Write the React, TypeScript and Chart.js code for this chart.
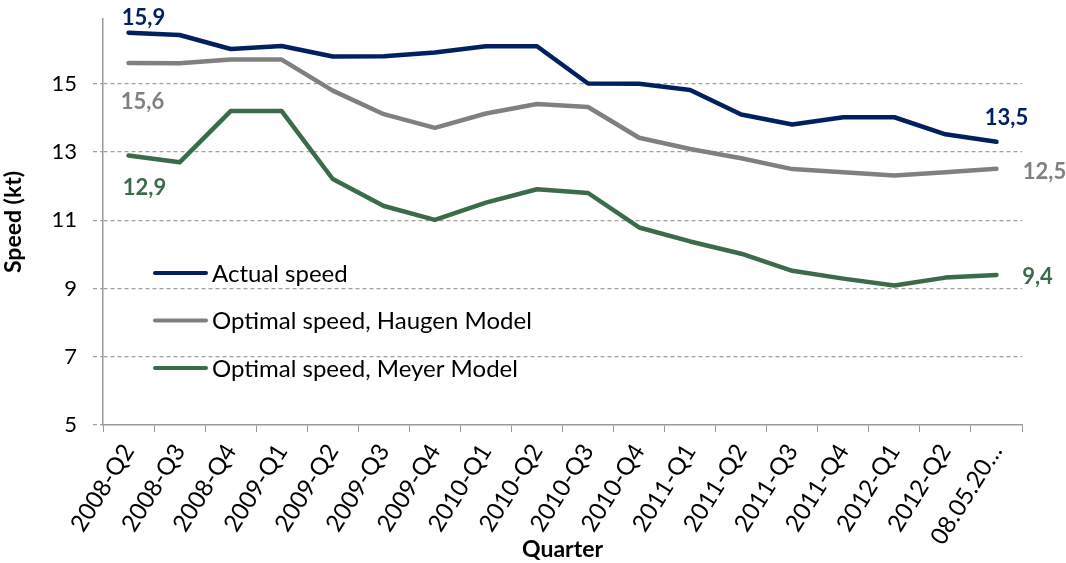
import React, { useEffect, useRef } from "react";
import { Chart, registerables } from "chart.js";

Chart.register(...registerables);

const categories = [
  "2008-Q2", "2008-Q3", "2008-Q4", "2009-Q1", "2009-Q2", "2009-Q3", "2009-Q4",
  "2010-Q1", "2010-Q2", "2010-Q3", "2010-Q4", "2011-Q1", "2011-Q2", "2011-Q3",
  "2011-Q4", "2012-Q1", "2012-Q2", "08.05.20…",
];
const actualSpeed = [16.5, 16.43, 16.02, 16.11, 15.8, 15.81, 15.92, 16.1, 16.1, 15.01, 15.0, 14.82, 14.1, 13.81, 14.02, 14.02, 13.52, 13.3];
const haugenSpeed = [15.61, 15.6, 15.71, 15.71, 14.8, 14.11, 13.71, 14.13, 14.41, 14.32, 13.42, 13.09, 12.82, 12.5, 12.41, 12.31, 12.41, 12.51];
const meyerSpeed = [12.9, 12.7, 14.2, 14.2, 12.21, 11.42, 11.01, 11.52, 11.91, 11.8, 10.79, 10.38, 10.02, 9.52, 9.29, 9.09, 9.32, 9.4];
const seriesNames = ["Actual speed", "Optimal speed, Haugen Model", "Optimal speed, Meyer Model"];
const startLabels = ["15,9", "15,6", "12,9"];
const endLabels = ["13,5", "12,5", "9,4"];
const yTicks = [5, 7, 9, 11, 13, 15];

const COLORS = ["#002060", "#808080", "#3a6b4a"];
const FONT = "Lato, 'Open Sans', sans-serif";

const startOffsets = [[15, -15], [14, 39], [16, 32]];
const endOffsets = [[10, -24], [48, 3], [41, 2]];

const overlayPlugin = {
  id: "overlay",
  afterDatasetsDraw(chart: any) {
    const ctx = chart.ctx;
    ctx.save();
    // data labels
    ctx.font = `bold 22px ${FONT}`;
    ctx.textAlign = "center";
    ctx.textBaseline = "middle";
    chart.data.datasets.forEach((ds: any, i: number) => {
      const meta = chart.getDatasetMeta(i);
      const first = meta.data[0];
      const last = meta.data[meta.data.length - 1];
      ctx.fillStyle = COLORS[i];
      ctx.fillText(startLabels[i], first.x + startOffsets[i][0], first.y + startOffsets[i][1]);
      ctx.fillText(endLabels[i], last.x + endOffsets[i][0], last.y + endOffsets[i][1]);
    });
    // legend
    const area = chart.chartArea;
    const lx = area.left + 50;
    const ly0 = area.top + 254;
    ctx.font = `24px ${FONT}`;
    ctx.textAlign = "left";
    seriesNames.forEach((name, i) => {
      const y = ly0 + i * 47.5;
      ctx.strokeStyle = COLORS[i];
      ctx.lineWidth = 4;
      ctx.lineCap = "round";
      ctx.beginPath();
      ctx.moveTo(lx + 2, y);
      ctx.lineTo(lx + 53, y);
      ctx.stroke();
      ctx.fillStyle = "#000";
      ctx.fillText(name, lx + 59, y + 1);
    });
    ctx.restore();
  },
};

export default function App() {
  const ref = useRef<HTMLCanvasElement | null>(null);
  useEffect(() => {
    if (!ref.current) return;
    const data = [actualSpeed, haugenSpeed, meyerSpeed];
    const chart = new Chart(ref.current, {
      type: "line",
      data: {
        labels: categories,
        datasets: data.map((d, i) => ({
          label: seriesNames[i],
          data: d,
          borderColor: COLORS[i],
          backgroundColor: COLORS[i],
          borderWidth: 4.5,
          pointRadius: 0,
          tension: 0,
          borderCapStyle: "round" as const,
          borderJoinStyle: "round" as const,
        })),
      },
      options: {
        animation: false,
        responsive: true,
        maintainAspectRatio: false,
        layout: { padding: { left: 0, top: 19, right: 44, bottom: 0 } },
        plugins: { legend: { display: false }, tooltip: { enabled: false } },
        scales: {
          x: {
            offset: true,
            grid: {
              offset: true,
              drawOnChartArea: false,
              drawTicks: true,
              tickLength: 7,
              color: "#999",
              tickColor: "#999",
            },
            border: { color: "#999", width: 1.5 },
            ticks: {
              autoSkip: false,
              maxRotation: 58,
              minRotation: 58,
              color: "#000",
              font: { family: FONT, size: 24 },
              padding: 7,
            },
            title: {
              display: true,
              text: "Quarter",
              color: "#000",
              font: { family: FONT, size: 23, weight: "bold" },
              padding: { top: 0, bottom: 0 },
            },
            afterFit: (scale: any) => {
              scale.height = 138;
              scale.paddingLeft = 0;
              scale.paddingRight = 0;
            },
          },
          y: {
            min: 5,
            max: 16.9,
            afterBuildTicks: (scale: any) => {
              scale.ticks = yTicks.map((v) => ({ value: v }));
            },
            grid: {
              color: (c: any) => (c.tick && c.tick.value === 5 ? "rgba(0,0,0,0)" : "#a0a0a0"),
              tickColor: "#a0a0a0",
              tickBorderDash: [4, 3],
              tickLength: 10,
              lineWidth: 1.3,
            },
            border: { color: "#999", width: 1.5, dash: [4, 3] },
            ticks: {
              color: "#000",
              font: { family: FONT, size: 22 },
              padding: 16,
              callback: (v: any) => String(v),
            },
            title: {
              display: true,
              text: "Speed (kt)",
              color: "#000",
              font: { family: FONT, size: 23, weight: "bold" },
              padding: { top: 0, bottom: 0 },
            },
            afterFit: (scale: any) => {
              scale.width = 103;
              scale.paddingTop = 0;
              scale.paddingBottom = 0;
            },
          },
        },
      },
      plugins: [overlayPlugin],
    });
    return () => chart.destroy();
  }, []);
  return (
    <div style={{ position: "fixed", left: 0, top: 0, width: 1066, height: 563, background: "#fff" }}>
      <canvas ref={ref} />
    </div>
  );
}
